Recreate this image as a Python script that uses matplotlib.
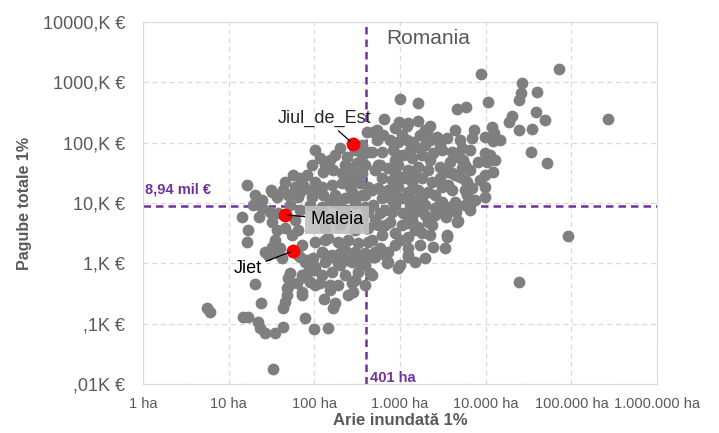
import matplotlib.pyplot as plt
from matplotlib.ticker import FixedLocator, NullLocator

# --- data (area in ha, damage in thousand EUR) ---
area_ha = [
    8800, 26500, 25800, 24500, 39300, 38300, 49200, 20200, 18600, 24500, 34500, 71000,
    265000, 51900, 92000, 24500, 33600, 1000, 1620, 4650, 5900, 10600, 650, 970,
    1200, 1620, 1950, 2700, 3550, 7300, 6900, 11800, 12500, 12100, 9800, 630,
    760, 1060, 1420, 480, 537, 411, 1240, 537, 2060, 950, 1200, 1500,
    1950, 614, 826, 1090, 1380, 1810, 2430, 3100, 4070, 5300, 9800, 10300,
    552, 722, 948, 1240, 1620, 2120, 2940, 3650, 5450, 5300, 614, 804,
    1060, 1380, 1810, 2340, 4400, 5750, 9800, 552, 722, 948, 1240, 1620,
    2120, 3100, 3650, 5750, 6900, 9800, 9800, 614, 804, 1060, 1380, 1810,
    2560, 3100, 4400, 6070, 582, 804, 1090, 1500, 1950, 3100, 3850, 4650,
    552, 762, 1060, 1380, 1620, 2120, 3370, 4650, 614, 872, 1240, 1810,
    1500, 582, 722, 1240, 1240, 2430, 3370, 3550, 722, 1000, 948, 5030,
    5750, 3850, 4070, 5030, 6070, 11200, 12800, 12100, 3550, 4520, 3460, 4770,
    3550, 2120, 1310, 1200, 509, 666, 703, 1240, 445, 174, 241, 116,
    359, 389, 82, 56, 126, 165, 210, 275, 315, 102, 123, 160,
    210, 260, 340, 422, 32, 43, 60, 74, 89, 37, 49, 65,
    94, 126, 174, 228, 298, 389, 30, 38, 32, 37, 35, 40,
    45, 55, 65, 72, 26.5, 30, 65, 78, 85, 102, 123, 72,
    89, 63, 49, 48, 72, 102, 145, 189, 247, 323, 422, 123,
    160, 228, 298, 389, 509, 133, 189, 275, 389, 160, 228, 323,
    469, 189, 275, 389, 247, 110, 152, 228, 323, 422, 133, 199,
    298, 422, 89, 123, 16.4, 19.2, 24.5, 31, 14.3, 22.6, 16.8, 16.4,
    32, 315, 359, 20.3, 23.8, 22, 23.2, 26.5, 34.8, 43, 33, 78,
    99, 145, 48, 45.5, 43, 130, 174, 165, 283, 52, 49, 72,
    74, 102, 116, 152, 28.7, 36.8, 42, 68, 82, 97, 89, 102,
    82, 126, 160, 199, 241, 298, 340, 389, 482, 5.6, 6.05, 14.7,
    16.8, 469, 509, 469, 482, 509, 469, 2560,
    199, 359, 422, 298, 228, 152, 94, 68, 45.5, 68, 110, 152,
    199, 298, 389, 52, 68, 60, 24.5, 20.3, 872, 2240, 4400, 5030,
    1710, 872, 2240, 2940, 872, 1950, 872, 1310, 666, 2560, 872, 1710,
    1950, 1500, 666, 1000, 2240, 6550, 7490, 8570, 8060, 6550, 14700,
    102, 133, 260, 359, 275, 1140, 1500, 948, 1710, 2340, 2820, 5750,
    199, 298, 152, 133, 872, 1310, 582, 2940, 2240, 4070, 6550,
]
damage_k = [
    1380, 980, 670, 510, 700, 320, 240, 280, 220, 163, 169, 1680,
    250, 46, 2.8, 0.49, 70, 530, 460, 360, 390, 475, 250, 220,
    190, 230, 163, 125, 120, 163, 120, 183, 145, 107, 125, 135,
    111, 135, 103, 151, 111, 151, 213, 163, 151, 103, 111, 85,
    92, 70, 76, 63, 56, 63, 68, 76, 70, 82, 68, 48,
    43, 38, 43, 35, 40, 35, 40, 33, 52, 38, 26, 24,
    27, 22, 26, 22, 29, 24, 29, 17.8, 16.5, 18.5, 15.3, 16.5,
    15.3, 18.5, 20, 16.5, 17.8, 18.5, 12.6, 12.2, 11.2, 12.2, 11.2, 12.6,
    13.6, 10.4, 10.4, 13.6, 6.9, 7.1, 6.9, 7.1, 6.4, 7.1, 8.3, 9.3,
    4.3, 4.9, 4.3, 5.2, 4.0, 4.9, 6.4, 4.9, 3.0, 3.2, 2.7, 3.2,
    3.6, 1.8, 1.55, 1.8, 1.38, 1.87, 1.8, 3.0, 1.05, 0.94, 0.84, 56,
    43, 48, 32, 27, 22, 63, 52, 33, 8.6, 7.1, 5.9, 5.05,
    2.7, 5.2, 7.1, 4.7, 1.28, 1.38, 1.02, 1.28, 0.69, 63, 58, 56,
    63, 43, 29, 29, 33, 35, 32, 38, 26, 22, 18.5, 20,
    21.5, 18.5, 21.5, 18.5, 15.3, 16.5, 18.5, 20, 16.5, 12.6, 13.6, 12.6,
    12.6, 13.6, 13.6, 12.2, 12.6, 13.6, 7.1, 6.9, 4.9, 3.6, 2.4, 1.8,
    3.9, 3.0, 3.6, 2.0, 1.55, 1.49, 1.38, 1.05, 0.72, 0.87, 0.64, 0.64,
    0.49, 0.47, 0.41, 0.30, 0.30, 2.3, 2.6, 2.3, 2.4, 2.2, 2.3, 1.55,
    1.38, 1.67, 1.55, 1.38, 1.55, 1.05, 1.02, 1.05, 0.94, 0.72, 0.64, 0.72,
    0.64, 0.44, 0.47, 0.44, 0.30, 7.1, 5.7, 7.1, 5.2, 7.1, 3.9, 4.3,
    3.6, 3.9, 9.3, 8.6, 20, 9.3, 11.2, 16.5, 5.9, 5.9, 3.6, 2.3,
    1.87, 46, 32, 0.46, 0.22, 0.107, 0.085, 0.070, 0.070, 0.088, 0.018, 0.124,
    0.082, 0.085, 0.39, 0.23, 0.18, 0.26, 0.22, 0.18, 0.34, 0.69, 0.57, 0.34,
    0.59, 0.44, 0.47, 0.44, 1.38, 1.49, 1.23, 1.28, 1.14, 1.23, 0.94, 0.78,
    0.69, 1.49, 1.28, 1.49, 1.14, 1.38, 1.05, 1.49, 1.28, 0.18, 0.156, 0.129,
    0.129, 70, 35, 16.5, 9.3, 5.2, 2.4, 8.3,
    82, 92, 70, 76, 43, 52, 43, 26, 22, 15.3, 16.5, 11.2,
    9.3, 10.0, 8.6, 9.3, 7.7, 5.2, 8.3, 13.6, 175, 190, 163, 111,
    135, 52, 52, 26, 33, 9.3, 9.3, 9.3, 7.7, 6.4, 2.0, 2.0,
    1.23, 1.05, 4.3, 2.4, 3.0, 7.7, 11.2, 24, 48, 76, 111,
    76, 43, 26, 13.6, 15.3, 26, 29, 63, 9.3, 4.3, 9.3, 9.3,
    0.94, 0.53, 0.36, 2.4, 16.5, 76, 43, 92, 111, 16.5, 35,
]

highlight_names = ['Jiul_de_Est', 'Maleia', 'Jiet']
highlight_area = [280, 45, 56]
highlight_damage = [97, 6.4, 1.6]

area_median = 401      # ha
damage_median = 8.94   # thousand EUR

x_ticks = [1, 10, 100, 1000, 10000, 100000, 1000000]
x_labels = ['1 ha', '10 ha', '100 ha', '1.000 ha', '10.000 ha', '100.000 ha', '1.000.000 ha']
y_ticks = [0.01, 0.1, 1, 10, 100, 1000, 10000]
y_labels = [',01K €', ',1K €', '1,K €', '10,K €', '100,K €', '1000,K €', '10000,K €']

grey_txt = '#595959'
purple = '#7030A0'

plt.rcParams['font.family'] = ['Liberation Sans', 'DejaVu Sans']

fig = plt.figure(figsize=(7.19, 4.33), dpi=100)
ax = fig.add_axes([0.199, 0.113, 0.715, 0.836])

ax.scatter(area_ha, damage_k, s=72, color='#7f7f7f', linewidths=0, zorder=3)

ax.set_xscale('log')
ax.set_yscale('log')
ax.set_xlim(1, 1000000)
ax.set_ylim(0.01, 10000)

ax.xaxis.set_major_locator(FixedLocator(x_ticks))
ax.yaxis.set_major_locator(FixedLocator(y_ticks))
ax.xaxis.set_minor_locator(NullLocator())
ax.yaxis.set_minor_locator(NullLocator())
ax.set_xticklabels(x_labels, fontsize=10.5, color=grey_txt)
ax.set_yticklabels(y_labels, fontsize=13, color=grey_txt)
ax.tick_params(axis='x', length=0, pad=9)
ax.tick_params(axis='y', length=0, pad=13)

ax.grid(True, which='major', linestyle=(0, (4, 3)), color='#d9d9d9', linewidth=0.9, zorder=0)
ax.set_axisbelow(True)
for sp in ax.spines.values():
    sp.set_color('#d9d9d9')

ax.set_xlabel('Arie inundată 1%', fontsize=12, fontweight='bold', color=grey_txt, labelpad=2)
ax.set_ylabel('Pagube totale 1%', fontsize=11.5, fontweight='bold', color=grey_txt, labelpad=8)

# median lines
ax.axvline(area_median, color=purple, linestyle=(0, (3, 2)), linewidth=1.8, zorder=2)
ax.axhline(damage_median, color=purple, linestyle=(0, (3, 2)), linewidth=1.8, zorder=2)
ax.text(1.04, 13.0, '8,94 mil €', color=purple, fontsize=10.5, fontweight='bold', va='bottom', ha='left')
ax.text(area_median * 1.12, 0.0125, '401 ha', color=purple, fontsize=10.5, fontweight='bold', va='center', ha='left')

ax.text(0.554, 0.955, 'Romania', transform=ax.transAxes, fontsize=15, color=grey_txt, ha='center', va='center')

# highlighted rivers
ax.scatter(highlight_area, highlight_damage, s=100, color='#ff0000', linewidths=0, zorder=5)

ax.annotate(highlight_names[0], (highlight_area[0], highlight_damage[0]),
            xytext=(-28, 25), textcoords='offset pixels', ha='center', va='center',
            fontsize=13, color='#262626', zorder=6,
            arrowprops=dict(arrowstyle='-', color='black', lw=0.9, shrinkA=1, shrinkB=2))
ax.annotate(highlight_names[1], (highlight_area[1], highlight_damage[1]),
            xytext=(26, -5), textcoords='offset pixels', ha='left', va='center',
            fontsize=13, color='black', zorder=6,
            bbox=dict(boxstyle='square,pad=0.3', facecolor='#c0c0c0', edgecolor='none', alpha=0.9),
            arrowprops=dict(arrowstyle='-', color='black', lw=0.9, shrinkA=0, shrinkB=2))
ax.annotate(highlight_names[2], (highlight_area[2], highlight_damage[2]),
            xytext=(-31, -17), textcoords='offset pixels', ha='right', va='center',
            fontsize=13, color='black', zorder=6,
            arrowprops=dict(arrowstyle='-', color='black', lw=0.9, shrinkA=1, shrinkB=2))

fig.savefig('out.png', dpi=100)
